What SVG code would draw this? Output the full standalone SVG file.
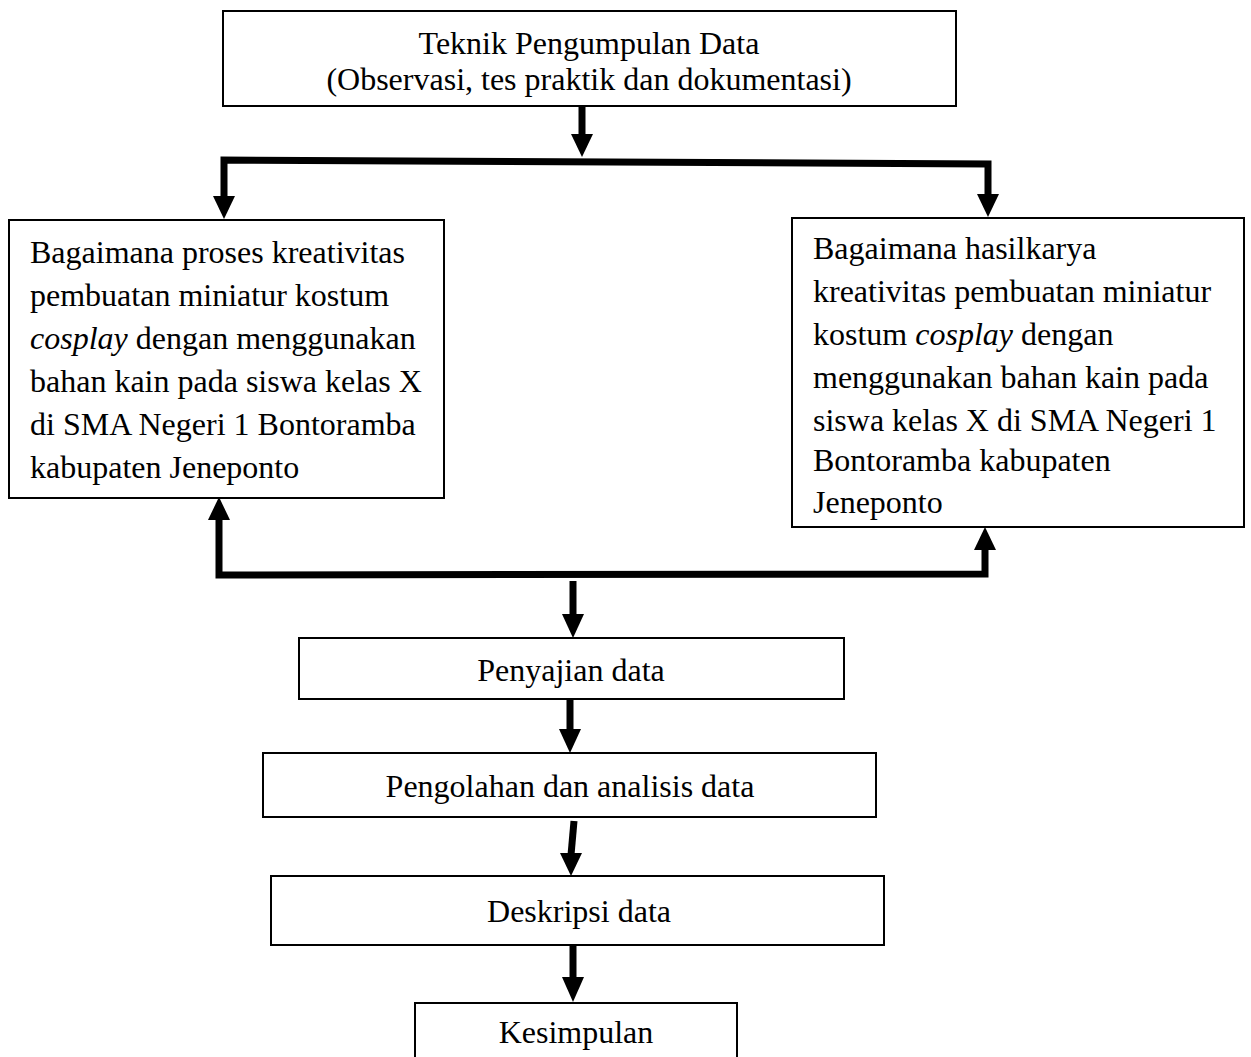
<svg xmlns="http://www.w3.org/2000/svg" width="1251" height="1057" viewBox="0 0 1251 1057">
<style>
.box{fill:#fff;stroke:#000;stroke-width:2}
text{font-family:"Liberation Serif","Times New Roman",serif;font-size:32px;fill:#000}
.c{text-anchor:middle}
.ln{fill:none;stroke:#000;stroke-width:7;stroke-linecap:butt;stroke-linejoin:miter}
.hd{fill:#000}
</style>
<rect width="1251" height="1057" fill="#fff"/>
<g id="connectors">
<line class="ln" x1="582" y1="106" x2="582" y2="136"/>
<polygon class="hd" points="571,134 593,134 582,157"/>
<polyline class="ln" points="224,198 224,160 988,164 988,196"/>
<polygon class="hd" points="213,196 235,196 224,219"/>
<polygon class="hd" points="977,194 999,194 988,217"/>
<polyline class="ln" points="219,518 219,575 985,574 985,548"/>
<polygon class="hd" points="208,520 230,520 219,497"/>
<polygon class="hd" points="974,550 996,550 985,527"/>
<line class="ln" x1="573" y1="581" x2="573" y2="616"/>
<polygon class="hd" points="562,614 584,614 573,638"/>
<line class="ln" x1="570" y1="699" x2="570" y2="731"/>
<polygon class="hd" points="559,729 581,729 570,753"/>
<line class="ln" x1="574" y1="821" x2="571" y2="855"/>
<polygon class="hd" points="560,853 582,853 571,876"/>
<line class="ln" x1="573" y1="945" x2="573" y2="979"/>
<polygon class="hd" points="562,977 584,977 573,1002"/>
</g>
<g id="teknik">
<rect class="box" x="223" y="11" width="733" height="95"/>
<text class="c" x="589" y="54">Teknik Pengumpulan Data</text>
<text class="c" x="589" y="90">(Observasi, tes praktik dan dokumentasi)</text>
</g>
<g id="proses">
<rect class="box" x="9" y="220" width="435" height="278"/>
<text x="30" y="263">Bagaimana proses kreativitas</text>
<text x="30" y="306">pembuatan miniatur kostum</text>
<text x="30" y="349"><tspan font-style="italic">cosplay</tspan> dengan menggunakan</text>
<text x="30" y="392">bahan kain pada siswa kelas X</text>
<text x="30" y="435">di SMA Negeri 1 Bontoramba</text>
<text x="30" y="478">kabupaten Jeneponto</text>
</g>
<g id="hasil">
<rect class="box" x="792" y="218" width="452" height="309"/>
<text x="813" y="259">Bagaimana hasilkarya</text>
<text x="813" y="302">kreativitas pembuatan miniatur</text>
<text x="813" y="345">kostum <tspan font-style="italic">cosplay</tspan> dengan</text>
<text x="813" y="388">menggunakan bahan kain pada</text>
<text x="813" y="431">siswa kelas X di SMA Negeri 1</text>
<text x="813" y="471">Bontoramba kabupaten</text>
<text x="813" y="513">Jeneponto</text>
</g>
<g id="penyajian">
<rect class="box" x="299" y="638" width="545" height="61"/>
<text class="c" x="571" y="681">Penyajian data</text>
</g>
<g id="pengolahan">
<rect class="box" x="263" y="753" width="613" height="64"/>
<text class="c" x="570" y="797">Pengolahan dan analisis data</text>
</g>
<g id="deskripsi">
<rect class="box" x="271" y="876" width="613" height="69"/>
<text class="c" x="579" y="922">Deskripsi data</text>
</g>
<g id="kesimpulan">
<rect class="box" x="415" y="1003" width="322" height="60"/>
<text class="c" x="576" y="1043">Kesimpulan</text>
</g>
</svg>
